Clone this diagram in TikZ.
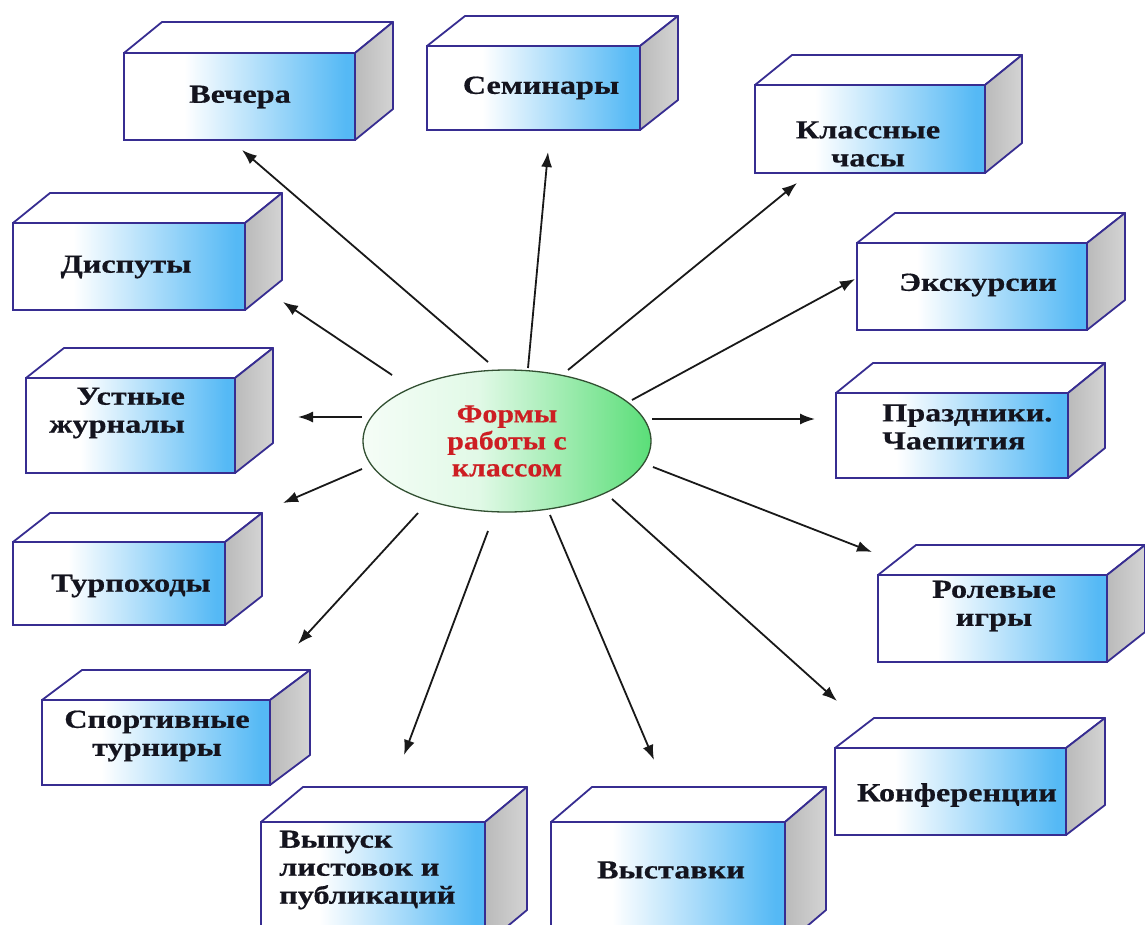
\documentclass[tikz,border=0pt]{standalone}
\usepackage{fontspec}
\setmainfont{Liberation Serif}
\newfontfamily\boxfont{Liberation Serif Bold}[FakeStretch=1.24, FakeBold=0.5]
\newfontfamily\ellfont{Liberation Serif Bold}[FakeStretch=1.15, FakeBold=0.5]
\usetikzlibrary{shapes.geometric,arrows.meta}
\definecolor{boxblue}{RGB}{85,185,245}
\definecolor{boxline}{RGB}{55,45,145}
\definecolor{ellgreen}{RGB}{90,222,120}
\definecolor{ellline}{RGB}{50,80,50}
\definecolor{elltext}{RGB}{205,30,35}
\definecolor{boxtextcol}{RGB}{20,20,30}
\pgfdeclarehorizontalshading{frontshade}{100bp}{color(0bp)=(white); color(25bp)=(white); color(38bp)=(white); color(73bp)=(boxblue); color(100bp)=(boxblue)}
\pgfdeclarehorizontalshading{ellshade}{100bp}{color(0bp)=(ellgreen!6); color(25bp)=(ellgreen!6); color(45bp)=(ellgreen!18); color(75bp)=(ellgreen); color(100bp)=(ellgreen)}
\tikzset{
  topface/.style={fill=white, draw=boxline, line width=1.8pt, line join=round},
  sideface/.style={left color=black!27, right color=black!17, draw=boxline, line width=1.8pt, line join=round},
  frontface/.style={shape=rectangle, shading=frontshade, draw=boxline, line width=1.8pt, inner sep=0pt, outer sep=0pt},
  boxtext/.style={font=\boxfont\fontsize{26}{28}\selectfont, text=boxtextcol, inner sep=0pt},
  arr/.style={-{Latex[length=15pt,width=11pt]}, line width=1.8pt, draw=black!90},
}
\newcommand{\cuboid}[7]{%
  \filldraw[topface] (#2,#3) -- (#2+#6,#3-#7) -- (#4+#6,#3-#7) -- (#4,#3) -- cycle;
  \path[sideface] (#4,#3) -- (#4+#6,#3-#7) -- (#4+#6,#5-#7) -- (#4,#5) -- cycle;
  \pgfmathsetmacro\cubw{#4-#2}\pgfmathsetmacro\cubh{#5-#3}%
  \node[frontface, minimum width=\cubw pt, minimum height=\cubh pt] (#1) at ({(#2+#4)/2},{(#3+#5)/2}) {};
}
\begin{document}
\begin{tikzpicture}[x=1pt,y=-1pt]
\useasboundingbox (0,0) rectangle (1145,924);
\clip (0,0) rectangle (1145,924);
\fill[white] (0,0) rectangle (1145,924);

\cuboid{vechera}{124}{53}{355}{140}{38}{31}
\cuboid{seminary}{427}{46}{640}{130}{38}{30}
\cuboid{klass}{755}{85}{985}{173}{37}{30}
\cuboid{disputy}{13}{223}{245}{310}{37}{30}
\cuboid{ekskursii}{857}{243}{1087}{330}{38}{30}
\cuboid{ustnye}{26}{378}{235}{473}{38}{30}
\cuboid{prazdniki}{836}{393}{1068}{478}{37}{30}
\cuboid{turpohody}{13}{542}{225}{625}{37}{29}
\cuboid{rolevye}{878}{575}{1107}{662}{38}{30}
\cuboid{sport}{42}{700}{270}{785}{40}{30}
\cuboid{konf}{835}{748}{1066}{835}{39}{30}
\cuboid{vypusk}{261}{822}{485}{945}{42}{35}
\cuboid{vystavki}{551}{822}{785}{945}{41}{35}

\node[boxtext] (tvechera) at (240,97) {Вечера};
\node[boxtext] (tsem) at (541,88) {Семинары};
\node[boxtext, align=center] (tklass) at (868,144) {Классные\\часы};
\node[boxtext] (tdisp) at (126,267) {Диспуты};
\node[boxtext] (teksk) at (978,285) {Экскурсии};
\node[boxtext, align=right] (tust) at (117,413) {Устные\\журналы};
\node[boxtext, align=left, anchor=west] (tpraz) at (882,427) {Праздники.\\Чаепития};
\node[boxtext] (ttur) at (131,586) {Турпоходы};
\node[boxtext, align=center] (trol) at (994,606) {Ролевые\\игры};
\node[boxtext, align=center] (tsport) at (157,736) {Спортивные\\турниры};
\node[boxtext] (tkonf) at (957,795) {Конференции};
\node[boxtext, align=left, anchor=west] (tvyp) at (279,870) {Выпуск\\листовок и\\публикаций};
\node[boxtext] (tvyst) at (671,870) {Выставки};

\node[ellipse, draw=ellline, line width=1.3pt, shading=ellshade, minimum width=288pt, minimum height=142pt, inner sep=0pt] (center) at (507,441) {};
\node[font=\ellfont\fontsize{26}{27}\selectfont, text=elltext, align=center, inner sep=0pt] (ctext) at (507,441) {Формы\\работы с\\классом};

\coordinate (s1) at (488,362);  \coordinate (e1) at (242,150);
\coordinate (s2) at (528,368);  \coordinate (e2) at (548,152);
\coordinate (s3) at (568,370);  \coordinate (e3) at (797,183);
\coordinate (s4) at (632,400);  \coordinate (e4) at (855,279);
\coordinate (s5) at (652,419);  \coordinate (e5) at (815,419);
\coordinate (s6) at (653,467);  \coordinate (e6) at (872,552);
\coordinate (s7) at (612,499);  \coordinate (e7) at (837,701);
\coordinate (s8) at (550,515);  \coordinate (e8) at (654,760);
\coordinate (s9) at (488,531);  \coordinate (e9) at (404,755);
\coordinate (s10) at (418,513); \coordinate (e10) at (298,644);
\coordinate (s11) at (362,469); \coordinate (e11) at (283,503);
\coordinate (s12) at (362,417); \coordinate (e12) at (298,417);
\coordinate (s13) at (392,375); \coordinate (e13) at (283,302);
\foreach \i in {1,...,13} { \draw[arr] (s\i) -- (e\i); }
\end{tikzpicture}
\end{document}
